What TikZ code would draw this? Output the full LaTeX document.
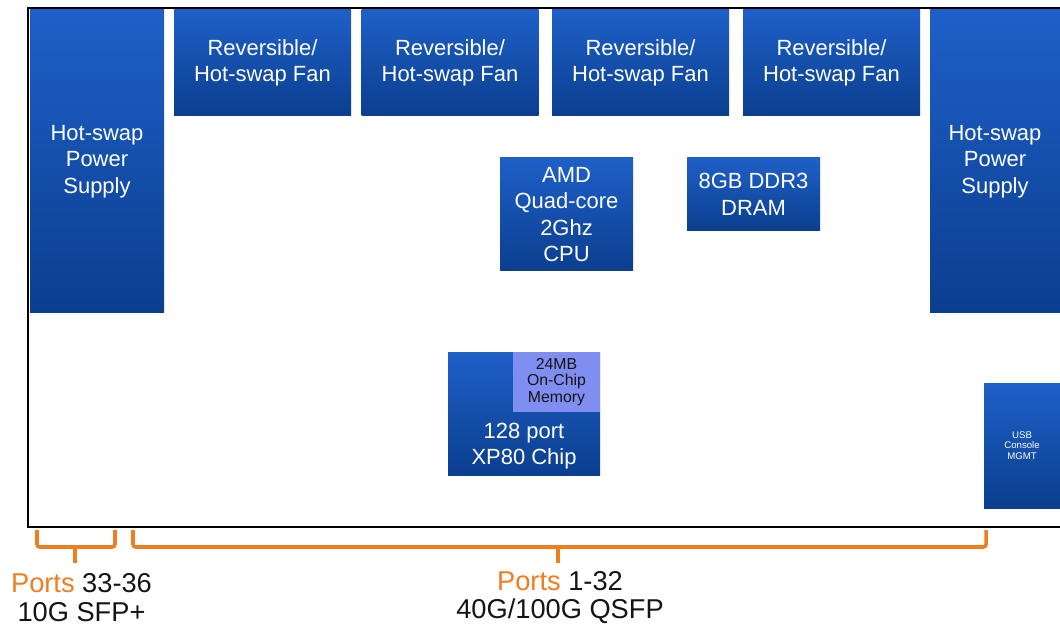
\documentclass[tikz,border=0pt]{standalone}
\usepackage{fontspec}
\setmainfont{Liberation Sans}
\usepackage{xcolor}
\definecolor{boxtop}{HTML}{1E60C8}
\definecolor{boxbot}{HTML}{0B3E8E}
\definecolor{memblue}{HTML}{7F8EF0}
\definecolor{portorange}{HTML}{F07D1E}
\definecolor{textblack}{HTML}{141414}

\begin{document}
\begin{tikzpicture}[
            unitbox/.style = {rectangle, top color=boxtop, bottom color=boxbot,
                text=white, align=center, inner sep=0pt,
                font=\fontsize{12.5}{15}\selectfont}, % blue block
            unittext/.style = {text=white, align=center, inner sep=0pt,
                font=\fontsize{12.5}{15}\selectfont}, % text on a block
            membox/.style = {rectangle, fill=memblue, text=textblack, align=center,
                inner sep=0pt, font=\fontsize{9}{9.5}\selectfont}, % on-chip memory
            chassis/.style = {draw=black, line width=1.7pt}, % outline of the box
            bracket/.style = {draw=portorange, line width=2pt, rounded corners=1.5pt},
            portlabel/.style = {align=center, text=textblack, inner sep=0pt,
                font=\fontsize{15.5}{16.4}\selectfont}
        ]
\useasboundingbox (0,0) rectangle (21.2,12.64);

% chassis outline
\coordinate (FTR) at (21.2,12.48);
\coordinate (FTL) at (0.56,12.48);
\coordinate (FBL) at (0.56,2.1);
\coordinate (FBR) at (21.2,2.1);
\draw[chassis] (FTR) -- (FTL) -- (FBL) -- (FBR);

% power supplies and fans
\node[unitbox, minimum width=2.68cm, minimum height=6.06cm] (PSUL) at (1.94,9.41) {Hot-swap\\Power\\Supply};
\node[unitbox, minimum width=2.6cm, minimum height=6.06cm] (PSUR) at (19.9,9.41) {Hot-swap\\Power\\Supply};
\node[unitbox, minimum width=3.54cm, minimum height=2.12cm] (FAN1) at (5.25,11.38) {Reversible/\\Hot-swap Fan};
\node[unitbox, minimum width=3.54cm, minimum height=2.12cm] (FAN2) at (9.0,11.38) {Reversible/\\Hot-swap Fan};
\node[unitbox, minimum width=3.54cm, minimum height=2.12cm] (FAN3) at (12.81,11.38) {Reversible/\\Hot-swap Fan};
\node[unitbox, minimum width=3.54cm, minimum height=2.12cm] (FAN4) at (16.63,11.38) {Reversible/\\Hot-swap Fan};

% cpu and memory
\node[unitbox, minimum width=2.66cm, minimum height=2.26cm] (CPU) at (11.33,8.35) {AMD\\Quad-core\\2Ghz\\CPU};
\node[unitbox, minimum width=2.66cm, minimum height=1.46cm] (DRAM) at (15.07,8.75) {8GB DDR3\\DRAM};

% switch chip
\node[unitbox, minimum width=3.04cm, minimum height=2.46cm] (CHIP) at (10.48,4.37) {};
\node[membox, minimum width=1.74cm, minimum height=1.2cm, anchor=north east] (MEM) at (CHIP.north east) {24MB\\On-Chip\\Memory};
\node[unittext] (CHIPT) at (10.48,3.72) {128 port\\XP80 Chip};

\node[unitbox, minimum width=1.52cm, minimum height=2.5cm, font=\fontsize{5.5}{6}\selectfont] (USB) at (20.44,3.73) {USB\\Console\\MGMT};

% port brackets
\coordinate (A1) at (0.74,2.04);
\coordinate (A2) at (0.74,1.7);
\coordinate (A3) at (2.3,1.7);
\coordinate (A4) at (2.3,2.04);
\coordinate (AM) at (1.5,1.7);
\coordinate (AS) at (1.5,1.38);
\draw[bracket] (A1) -- (A2) -- (A3) -- (A4);
\draw[bracket] (AM) -- (AS);

\coordinate (B1) at (2.66,2.04);
\coordinate (B2) at (2.66,1.7);
\coordinate (B3) at (19.72,1.7);
\coordinate (B4) at (19.72,2.04);
\coordinate (BM) at (11.16,1.7);
\coordinate (BS) at (11.16,1.38);
\draw[bracket] (B1) -- (B2) -- (B3) -- (B4);
\draw[bracket] (BM) -- (BS);

\node[portlabel] (PORTSA) at (1.63,0.69) {\textcolor{portorange}{Ports} 33-36\\10G SFP+};
\node[portlabel] (PORTSB) at (11.2,0.69) {\textcolor{portorange}{Ports} 1-32\\40G/100G QSFP};
\end{tikzpicture}
\end{document}
